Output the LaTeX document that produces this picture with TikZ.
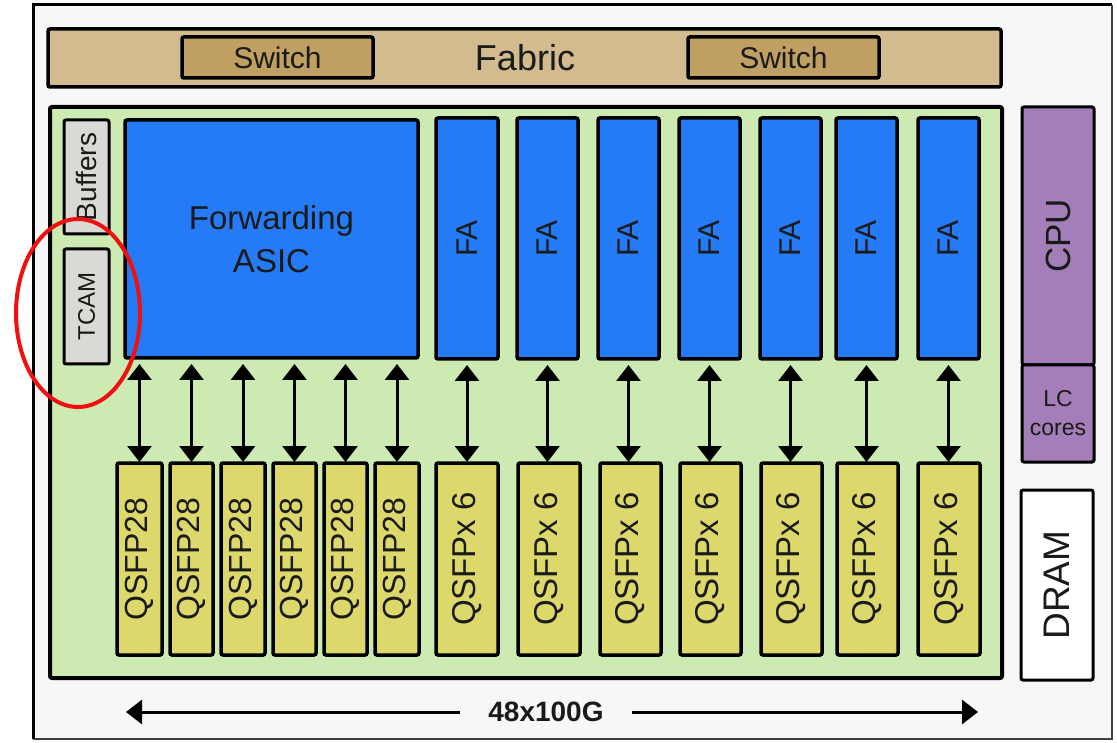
\documentclass[tikz,border=0pt]{standalone}
\usepackage{fontspec}
\setmainfont{Liberation Sans}
\usetikzlibrary{arrows.meta}
\definecolor{bgc}{HTML}{F7F7F7}
\definecolor{fabc}{HTML}{D2BC8F}
\definecolor{swc}{HTML}{BFA062}
\definecolor{grc}{HTML}{CCEAB1}
\definecolor{gyc}{HTML}{DADAD4}
\definecolor{blc}{HTML}{247BF5}
\definecolor{ylc}{HTML}{DDD86B}
\definecolor{puc}{HTML}{A47EB8}
\definecolor{txc}{HTML}{1A1A1A}
\definecolor{rdc}{HTML}{F01010}
\newcommand{\mybox}[6]{\node[#1, minimum width={(#4-#2)*1pt}, minimum height={(#5-#3)*1pt}, anchor=north west] (#6) at (#2,#3)}
\tikzset{
  base/.style={draw=black, line width=3.5pt, rounded corners=2pt, inner sep=0pt, outer sep=0pt, text=txc},
  fabbox/.style={base, fill=fabc},
  swbox/.style={base, fill=swc, font=\fontsize{30}{34}\selectfont},
  board/.style={base, fill=grc, line width=4pt},
  gybox/.style={base, fill=gyc, line width=3pt, font=\fontsize{24}{26}\selectfont},
  asicbox/.style={base, fill=blc, align=center, font=\fontsize{33}{43}\selectfont},
  fabox/.style={base, fill=blc, font=\fontsize{30}{34}\selectfont},
  qbox/.style={base, fill=ylc, font=\fontsize{32}{36}\selectfont},
  q6box/.style={base, fill=ylc, font=\fontsize{33}{36}\selectfont},
  cpubox/.style={base, fill=puc, line width=3pt, font=\fontsize{35}{38}\selectfont},
  lcbox/.style={base, fill=puc, line width=3pt, align=center, font=\fontsize{23}{29}\selectfont},
  drambox/.style={base, fill=white, line width=3pt, font=\fontsize{37}{40}\selectfont},
  biarrow/.style={line width=3pt, {Triangle[width=24pt 0,length=16pt 0]}-{Triangle[width=24pt 0,length=16pt 0]}},
  onearrow/.style={line width=3pt, -{Triangle[width=24pt 0,length=16pt 0]}},
}
\begin{document}
\begin{tikzpicture}[x=1pt,y=-1pt]
\useasboundingbox (0,0) rectangle (1117,743);
% outer frame
\fill[bgc] (33,5) rectangle (1112,739);
\draw[line width=1.2pt, black!75] (1112,5) -- (1112,739) -- (33,739);
\draw[line width=3pt, black] (33,739) -- (33,5) -- (1112,5);
% fabric
\mybox{fabbox}{48}{29}{1001}{87}{fabric} {};
\node[text=txc, font=\fontsize{36}{40}\selectfont] (fabtxt) at (525,58) {Fabric};
\mybox{swbox}{182}{37}{373}{78}{sw1} {Switch};
\mybox{swbox}{688}{37}{879}{78}{sw2} {Switch};
% board
\mybox{board}{50}{107}{1002}{678}{brd} {};
\mybox{gybox}{64}{120}{109}{234}{buf} {\rotatebox{90}{\fontsize{28}{30}\selectfont Buffers}};
\mybox{gybox}{64}{249}{109}{364}{tcam} {\rotatebox{90}{TCAM}};
\mybox{asicbox}{125}{120}{418}{358}{asic} {Forwarding\\ASIC};
% FA boxes
\mybox{fabox}{436}{118}{498}{359}{fa1} {\rotatebox{90}{FA}};
\mybox{fabox}{517}{118}{578}{359}{fa2} {\rotatebox{90}{FA}};
\mybox{fabox}{598}{118}{659}{359}{fa3} {\rotatebox{90}{FA}};
\mybox{fabox}{679}{118}{740}{359}{fa4} {\rotatebox{90}{FA}};
\mybox{fabox}{760}{118}{821}{359}{fa5} {\rotatebox{90}{FA}};
\mybox{fabox}{836}{118}{897}{359}{fa6} {\rotatebox{90}{FA}};
\mybox{fabox}{918}{118}{979}{359}{fa7} {\rotatebox{90}{FA}};
% QSFP28
\mybox{qbox}{117}{463}{162}{655}{q1} {\rotatebox{90}{QSFP28}};
\mybox{qbox}{170}{463}{213}{655}{q2} {\rotatebox{90}{QSFP28}};
\mybox{qbox}{221}{463}{265}{655}{q3} {\rotatebox{90}{QSFP28}};
\mybox{qbox}{273}{463}{316}{655}{q4} {\rotatebox{90}{QSFP28}};
\mybox{qbox}{324}{463}{367}{655}{q5} {\rotatebox{90}{QSFP28}};
\mybox{qbox}{375}{463}{419}{655}{q6} {\rotatebox{90}{QSFP28}};
% QSFP x 6
\mybox{q6box}{436}{463}{498}{655}{r1} {\rotatebox{90}{QSFPx 6}};
\mybox{q6box}{518}{463}{580}{655}{r2} {\rotatebox{90}{QSFPx 6}};
\mybox{q6box}{600}{463}{661}{655}{r3} {\rotatebox{90}{QSFPx 6}};
\mybox{q6box}{680}{463}{741}{655}{r4} {\rotatebox{90}{QSFPx 6}};
\mybox{q6box}{761}{463}{822}{655}{r5} {\rotatebox{90}{QSFPx 6}};
\mybox{q6box}{837}{463}{898}{655}{r6} {\rotatebox{90}{QSFPx 6}};
\mybox{q6box}{918}{463}{980}{655}{r7} {\rotatebox{90}{QSFPx 6}};
% arrows ASIC <-> QSFP28
\draw[biarrow] ([yshift=-6pt]asic.south -| q1.center) -- ([yshift=1pt]q1.north);
\draw[biarrow] ([yshift=-6pt]asic.south -| q2.center) -- ([yshift=1pt]q2.north);
\draw[biarrow] ([yshift=-6pt]asic.south -| q3.center) -- ([yshift=1pt]q3.north);
\draw[biarrow] ([yshift=-6pt]asic.south -| q4.center) -- ([yshift=1pt]q4.north);
\draw[biarrow] ([yshift=-6pt]asic.south -| q5.center) -- ([yshift=1pt]q5.north);
\draw[biarrow] ([yshift=-6pt]asic.south -| q6.center) -- ([yshift=1pt]q6.north);
% arrows FA <-> QSFPx6
\draw[biarrow] ([yshift=-6pt]fa1.south) -- ([yshift=1pt]fa1.south |- r1.north);
\draw[biarrow] ([yshift=-6pt]fa2.south) -- ([yshift=1pt]fa2.south |- r2.north);
\draw[biarrow] ([yshift=-6pt]fa3.south) -- ([yshift=1pt]fa3.south |- r3.north);
\draw[biarrow] ([yshift=-6pt]fa4.south) -- ([yshift=1pt]fa4.south |- r4.north);
\draw[biarrow] ([yshift=-6pt]fa5.south) -- ([yshift=1pt]fa5.south |- r5.north);
\draw[biarrow] ([yshift=-6pt]fa6.south) -- ([yshift=1pt]fa6.south |- r6.north);
\draw[biarrow] ([yshift=-6pt]fa7.south) -- ([yshift=1pt]fa7.south |- r7.north);
% CPU side
\mybox{cpubox}{1022}{107}{1094}{365}{cpu} {\rotatebox{90}{CPU}};
\mybox{lcbox}{1022}{365}{1094}{462}{lc} {LC\\cores};
\mybox{drambox}{1021}{490}{1093}{680}{dram} {\rotatebox{90}{DRAM}};
% bottom arrow
\node[text=txc, font=\bfseries\fontsize{28}{30}\selectfont, inner xsep=28pt, inner ysep=0pt] (bw) at (546,712) {48x100G};
\coordinate (bl) at (126,712);
\coordinate (br) at (978,712);
\draw[onearrow] (bw.west) -- (bl);
\draw[onearrow] (bw.east) -- (br);
% red ellipse
\draw[rdc, line width=4pt] (78,313) ellipse [x radius=62, y radius=94];
\end{tikzpicture}
\end{document}
